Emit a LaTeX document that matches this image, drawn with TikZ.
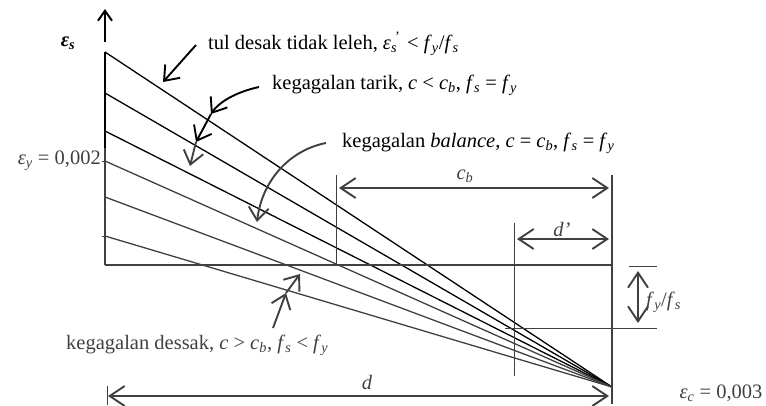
\documentclass[tikz,border=0pt]{standalone}
\usepackage{fontspec}
\setmainfont{Liberation Serif}
\usetikzlibrary{arrows.meta}
\newcommand\sbi[1]{\textsubscript{\textit{#1}}}
\begin{document}
\begin{tikzpicture}[x=1pt,y=-1pt,
  blk/.style={black},
  gry/.style={color=black!75},
  ln/.style={line width=1.3pt},
  thinln/.style={line width=0.9pt},
  arr/.style={line width=1.9pt,-{Straight Barb[length=13pt,width=20pt]}},
  dimarr/.style={line width=1.9pt,{Straight Barb[length=15pt,width=20pt]}-{Straight Barb[length=15pt,width=20pt]}},
  lbl/.style={inner sep=0pt,font=\fontsize{20.5}{24}\selectfont}]
\useasboundingbox (0,0) rectangle (766,405);
% key points
\coordinate (O) at (612,387);
\coordinate (a1) at (105,52);
\coordinate (a2) at (105,93);
\coordinate (a3) at (105,131);
\coordinate (a4) at (105,161);
\coordinate (a5) at (105,197);
\coordinate (a6) at (105,236);
\coordinate (ax0) at (105,265);
\coordinate (ar0) at (105,42);
\coordinate (ar1) at (105,9);
\coordinate (br) at (612,265);
% axis
\draw[blk,line width=2pt,-{Straight Barb[length=10pt,width=14pt]}] (ar0) -- (ar1);
\draw[blk,line width=2pt] (a1) -- (105,148);
\draw[gry,line width=2pt] (105,148) -- (ax0);
\draw[gry,thinln] (a4) -- ++(-3,0);
\draw[gry,thinln] (a6) -- ++(-3,0);
% fan lines
\draw[blk,ln] (a1) -- (O);
\draw[blk,ln] (a2) -- (O);
\draw[blk,ln] (a3) -- (O);
\draw[gry,ln] (a4) -- (O);
\draw[gry,ln] (a5) -- (O);
\draw[gry,ln] (a6) -- (O);
% base and verticals
\draw[gry,line width=1.8pt] (ax0) -- (br);
\coordinate (cbt) at (336,175);
\coordinate (cbb) at (336,265);
\draw[gry,thinln] (cbt) -- (cbb);
\coordinate (dpt) at (514,223);
\coordinate (dpb) at (514,376);
\draw[gry,thinln] (dpt) -- (dpb);
\coordinate (rt) at (612,175);
\coordinate (rb) at (612,404);
\draw[gry,line width=1.2pt] (rt) -- (rb);
% f_y/f_s lines
\coordinate (f1a) at (629,266);
\coordinate (f1b) at (657,266);
\coordinate (f2a) at (505,328);
\coordinate (f2b) at (657,328);
\draw[gry,thinln] (f1a) -- (f1b);
\draw[gry,thinln] (f2a) -- (f2b);
\coordinate (fa) at (638,271);
\coordinate (fb) at (638,323);
\draw[gry,dimarr] (fa) -- (fb);
% dimension arrows
\coordinate (cb1) at (339,188);
\coordinate (cb2) at (609,188);
\draw[gry,dimarr] (cb1) -- (cb2);
\coordinate (dp1) at (517,239);
\coordinate (dp2) at (609,239);
\draw[gry,dimarr] (dp1) -- (dp2);
\coordinate (d1) at (108,396);
\coordinate (d2) at (609,396);
\draw[gry,dimarr] (d1) -- (d2);
\draw[gry,thinln] (107,386) -- (107,405);
% labels
\node[lbl,blk] (es) at (68,43) {\textbf{\textit{ε}\textsubscript{\textit{s}}}};
\node[lbl,gry,anchor=east] (ey) at (101,161) {\textit{ε}\sbi{y} = 0,002};
\node[lbl,blk,anchor=west] (t1) at (208,44) {tul desak tidak leleh, \textit{ε}\sbi{s}\kern-0.1em\textsuperscript{\textquoteright}\,\,< \textit{f}\sbi{y}/\textit{f}\sbi{s}};
\node[lbl,blk,anchor=west] (t2) at (272,85) {kegagalan tarik, \textit{c} < \textit{c}\sbi{b}, \textit{f}\sbi{s} = \textit{f}\sbi{y}};
\node[lbl,blk,anchor=west] (t3) at (342,143) {kegagalan \textit{balance}, \textit{c} = \textit{c}\sbi{b}, \textit{f}\sbi{s} = \textit{f}\sbi{y}};
\node[lbl,gry,anchor=west] (t4) at (66,345) {kegagalan dessak, \textit{c} > \textit{c}\sbi{b}, \textit{f}\sbi{s} < \textit{f}\sbi{y}};
\node[lbl,gry] (lcb) at (465,176) {\textit{c}\sbi{b}};
\node[lbl,gry] (ldp) at (562,229) {\textit{d\textquoteright}};
\node[lbl,gry] (ld) at (367,382) {\textit{d}};
\node[lbl,gry,anchor=west] (lf) at (646,302) {\textit{f}\sbi{y}/\textit{f}\sbi{s}};
\node[lbl,gry] (lec) at (721,393) {\textit{ε}\sbi{c} = 0,003};
% pointer arrows
\coordinate (p1) at (163,82);
\draw[blk,arr] (t1.west) ++(-12,1) -- (p1);
\coordinate (q1) at (211,114);
\coordinate (q2) at (196,142);
\coordinate (q3) at (190,166);
\draw[blk,arr] (t2.west) ++(-13,2) .. controls (236,92) and (219,102) .. (q1);
\draw[blk,arr] (q1) -- (q2);
\draw[gry,arr] (q2) -- (q3);
\coordinate (r1) at (257,222);
\draw[gry,arr] (t3.west) ++(-16,0) .. controls (290,150) and (262,180) .. (r1);
\coordinate (s0) at (273,328);
\coordinate (s1) at (286,293);
\coordinate (s2) at (300,274);
\draw[gry,arr] (s0) -- (s1);
\draw[gry,arr] (s1) -- (s2);
\end{tikzpicture}
\end{document}
